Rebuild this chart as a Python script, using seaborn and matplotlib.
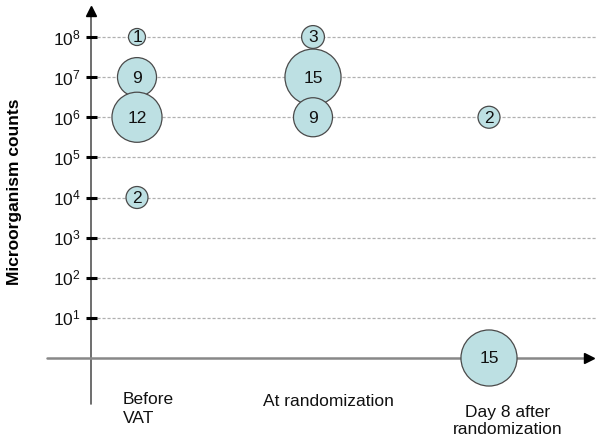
import matplotlib
matplotlib.use("Agg")
import matplotlib.pyplot as plt
import seaborn as sns
import pandas as pd

sns.set_theme(style="white")
plt.rcParams['font.family'] = ['Liberation Sans', 'DejaVu Sans']
plt.rcParams['mathtext.fontset'] = 'custom'
plt.rcParams['mathtext.rm'] = 'Liberation Sans'
plt.rcParams['mathtext.it'] = 'Liberation Sans'

# ---- data ----
categories = ["Before\nVAT", "At randomization", "Day 8 after\nrandomization"]
point_category = [0, 0, 0, 0, 1, 1, 1, 2, 2]
point_log_count = [8, 7, 6, 4, 8, 7, 6, 6, 0]   # exponent (0 = no growth)
point_n = [1, 9, 12, 2, 3, 15, 9, 2, 15]
ytick_exponents = [1, 2, 3, 4, 5, 6, 7, 8]

df = pd.DataFrame({"cat": point_category, "logc": point_log_count, "n": point_n})

W, H = 600, 439
fig = plt.figure(figsize=(W / 100, H / 100), dpi=100)
ax = fig.add_axes([0, 0, 1, 1])

# pixel <-> data mapping
px0, pxstep = 137.0, 176.0
py0, pystep = 359.0, 40.125
def xd(px): return (px - px0) / pxstep
def yd(py): return (py0 - py) / pystep

# gridlines
for e in ytick_exponents:
    ax.plot([xd(97), xd(596)], [e, e], color="#b0b0b0", lw=0.9,
            ls=(0, (2.5, 1.5)), zorder=1)

# axes lines
ax.plot([xd(91), xd(91)], [yd(405), yd(10)], color="#555555", lw=1.2, zorder=2)
ax.plot([xd(91)], [yd(12)], marker="^", color="black", ms=7, zorder=3, clip_on=False)
ax.plot([xd(47), xd(585)], [0, 0], color="#888888", lw=1.8, zorder=2)
ax.plot([xd(589)], [0], marker=">", color="black", ms=7, zorder=3, clip_on=False)

# y ticks and labels
for e in ytick_exponents:
    ax.plot([xd(86), xd(97)], [e, e], color="black", lw=2.2, zorder=3,
            solid_capstyle="butt")
    ax.text(xd(81), e, r"$\mathregular{10^{%d}}$" % e, ha="right", va="center",
            fontsize=12.5, color="#111111")

# bubbles
size_map = {1: 150, 2: 250, 3: 270, 9: 790, 12: 1300, 15: 1630}
sns.scatterplot(data=df, x="cat", y="logc", size="n", sizes=size_map,
                color="#bde0e3", edgecolor="#4a4a4a", linewidth=0.9,
                alpha=1, legend=False, ax=ax, zorder=4)
ax.set_xlim(xd(0), xd(W))
ax.set_ylim(yd(H), yd(0))
ax.axis("off")

for c, l, n in zip(point_category, point_log_count, point_n):
    ax.text(c, l, str(n), ha="center", va="center", fontsize=12.5,
            color="#111111", zorder=5)

# category labels
ax.text(xd(123), yd(409), categories[0], ha="left", va="center",
        fontsize=12.5, color="#111111", linespacing=1.3)
ax.text(xd(328), yd(402), categories[1], ha="center", va="center",
        fontsize=12.5, color="#111111")
ax.text(xd(508), yd(421), categories[2], ha="center", va="center",
        fontsize=12.5, color="#111111", linespacing=1.2)

# y label
ax.text(xd(15), yd(192), "Microorganism counts", rotation=90, ha="center",
        va="center", fontsize=12.5, fontweight="bold", color="black")

fig.savefig("out.png", dpi=100)
